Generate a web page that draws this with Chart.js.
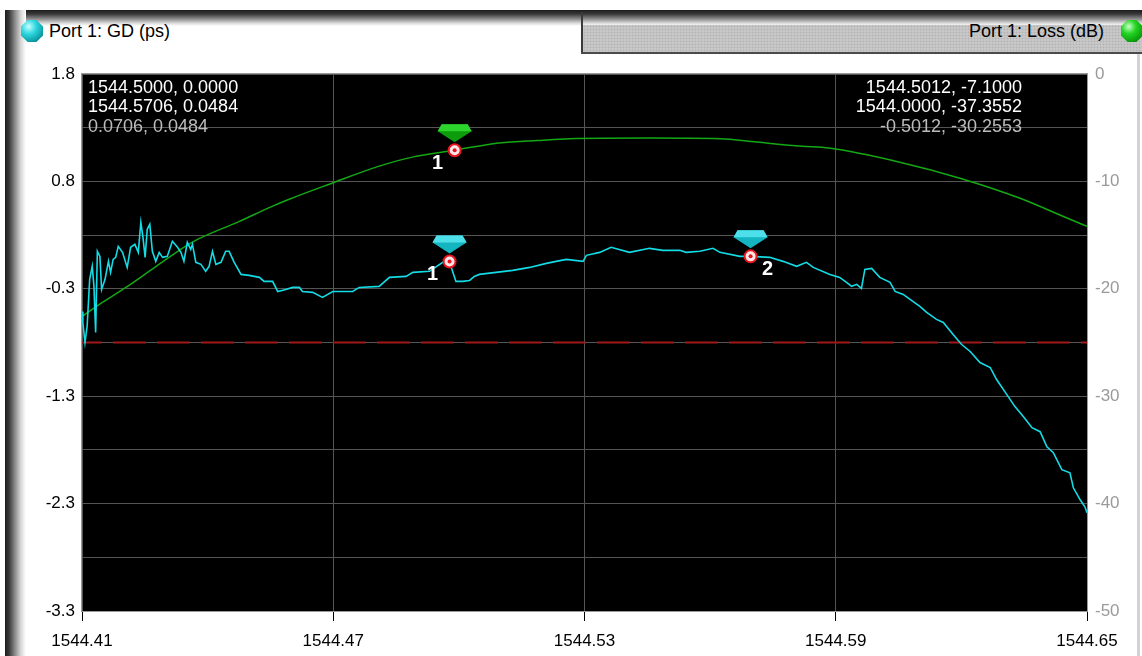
<!DOCTYPE html>
<html>
<head>
<meta charset="utf-8">
<title>Port 1: GD (ps) / Loss (dB)</title>
<script src="https://cdn.jsdelivr.net/npm/chart.js@4.4.1/dist/chart.umd.min.js"></script>
<style>
  html, body { margin: 0; padding: 0; background: #fff; }
  body { position: relative; width: 1142px; height: 656px; overflow: hidden;
         font-family: 'Liberation Sans', Arial, sans-serif; }
  .frame-top { position: absolute; left: 5px; top: 10px; width: 1137px; height: 16px;
               background: linear-gradient(to bottom, #1c1c1c 0, #383838 4px, #8c8c8c 9px, #d8d8d8 13px, #fff 16px); }
  .frame-left { position: absolute; left: 5px; top: 10px; width: 21px; height: 646px;
                background: linear-gradient(to right, #1c1c1c 0, #383838 4px, #8c8c8c 10px, #d8d8d8 16px, #fff 21px); }
  .tab-right { position: absolute; left: 583px; top: 25px; width: 559px; height: 27px;
               background-color: #c8c8c8;
               background-image: radial-gradient(#b2b2b2 0.8px, transparent 1.1px);
               background-size: 3px 3px; }
  .tab-edge { position: absolute; left: 581px; top: 12px; width: 2px; height: 42px; background: #3a3a3a; }
  .tab-base { position: absolute; left: 581px; top: 52px; width: 561px; height: 2px; background: #4a4a4a; }
  .frame-right { position: absolute; left: 1137px; top: 54px; width: 3px; height: 602px; background: #d2d2d2; }
  .tab-label { position: absolute; top: 21px; font-size: 18px; line-height: 20px; color: #000; white-space: nowrap; }
  .icon { position: absolute; top: 20px; width: 22px; height: 22px;
          clip-path: polygon(30% 0, 70% 0, 100% 30%, 100% 70%, 70% 100%, 30% 100%, 0 70%, 0 30%); }
  .icon.gd { left: 21px; background: radial-gradient(circle at 35% 30%, #c8feff 0, #2fd8e0 35%, #0a98a2 75%, #045a62 100%); }
  .icon.loss { left: 1121px; background: radial-gradient(circle at 35% 30%, #c8ffc8 0, #22d422 35%, #0a9a0a 75%, #045a04 100%); }
  #gd-chart { position: absolute; left: 0; top: 0; }
</style>
</head>
<body>
<div class="frame-top"></div>
<div class="frame-left"></div>
<div class="tab-right"></div>
<div class="tab-edge"></div>
<div class="tab-base"></div>
<div class="frame-right"></div>
<div class="icon gd"></div>
<div class="tab-label" style="left:49px">Port 1: GD (ps)</div>
<div class="tab-label" style="right:38px">Port 1: Loss (dB)</div>
<div class="icon loss"></div>
<canvas id="gd-chart" width="1142" height="656"></canvas>

<script>
// Axis ranges
const wlMin = 1544.4138;
const wlMax = 1544.6495;
const gdMin = -3.3;
const gdMax = 1.77;
const lossMin = -50;
const lossMax = 0;

// Group delay trace (ps) against wavelength (nm)
const gdWavelengths = [
    1544.4138, 1544.4140, 1544.4145, 1544.4150, 1544.4156, 1544.4162, 1544.4166, 1544.4170, 1544.4174, 1544.4180,
    1544.4184, 1544.4192, 1544.4200, 1544.4205, 1544.4211, 1544.4217, 1544.4223, 1544.4233, 1544.4244, 1544.4252,
    1544.4262, 1544.4270, 1544.4276, 1544.4281, 1544.4286, 1544.4291, 1544.4297, 1544.4303, 1544.4311, 1544.4319,
    1544.4327, 1544.4338, 1544.4350, 1544.4362, 1544.4370, 1544.4377, 1544.4385, 1544.4393, 1544.4397, 1544.4405,
    1544.4417, 1544.4428, 1544.4436, 1544.4444, 1544.4452, 1544.4464, 1544.4475, 1544.4483, 1544.4495, 1544.4511,
    1544.4530, 1544.4554, 1544.4565, 1544.4585, 1544.4597, 1544.4616, 1544.4632, 1544.4648, 1544.4655, 1544.4679,
    1544.4702, 1544.4726, 1544.4749, 1544.4773, 1544.4788, 1544.4835, 1544.4859, 1544.4898, 1544.4914, 1544.4953,
    1544.4984, 1544.5000, 1544.5007, 1544.5015, 1544.5031, 1544.5047, 1544.5058, 1544.5070, 1544.5109, 1544.5148,
    1544.5188, 1544.5227, 1544.5250, 1544.5274, 1544.5313, 1544.5321, 1544.5352, 1544.5379, 1544.5422, 1544.5469,
    1544.5500, 1544.5540, 1544.5555, 1544.5587, 1544.5618, 1544.5634, 1544.5681, 1544.5706, 1544.5751, 1544.5782,
    1544.5814, 1544.5837, 1544.5853, 1544.5892, 1544.5915, 1544.5931, 1544.5943, 1544.5955, 1544.5966, 1544.5974,
    1544.5990, 1544.6009, 1544.6033, 1544.6045, 1544.6064, 1544.6080, 1544.6103, 1544.6119, 1544.6142, 1544.6158,
    1544.6181, 1544.6201, 1544.6221, 1544.6244, 1544.6268, 1544.6283, 1544.6307, 1544.6326, 1544.6346, 1544.6366,
    1544.6385, 1544.6401, 1544.6416, 1544.6436, 1544.6455, 1544.6463, 1544.6479, 1544.6490, 1544.6495
];
const gdValues = [
    -0.472, -0.576, -0.765, -0.614, -0.169, -0.046, -0.235, -0.670, 0.096, 0.048,
    -0.264, -0.169, 0.001, -0.103, 0.020, 0.039, 0.143, 0.086, -0.056, 0.134,
    0.162, 0.086, 0.370, 0.228, 0.039, 0.304, 0.351, 0.096, 0.001, 0.086,
    0.039, 0.048, 0.190, 0.134, 0.086, 0.001, 0.181, 0.115, 0.162, -0.008,
    -0.027, -0.093, -0.046, 0.096, -0.027, -0.008, 0.096, 0.096, -0.008, -0.122,
    -0.131, -0.150, -0.188, -0.188, -0.283, -0.264, -0.245, -0.245, -0.283, -0.292,
    -0.339, -0.283, -0.283, -0.283, -0.245, -0.235, -0.150, -0.141, -0.103, -0.093,
    -0.008, 0.000, -0.093, -0.188, -0.188, -0.179, -0.141, -0.122, -0.103, -0.084,
    -0.056, -0.018, 0.001, 0.020, 0.001, 0.058, 0.086, 0.134, 0.086, 0.124,
    0.105, 0.105, 0.086, 0.096, 0.124, 0.086, 0.048, 0.0484, 0.039, 0.001,
    -0.046, -0.008, -0.056, -0.122, -0.150, -0.197, -0.235, -0.216, -0.254, -0.075,
    -0.065, -0.150, -0.197, -0.283, -0.311, -0.358, -0.424, -0.481, -0.547, -0.576,
    -0.689, -0.784, -0.850, -0.954, -1.001, -1.115, -1.257, -1.370, -1.465, -1.569,
    -1.607, -1.749, -1.806, -1.966, -1.995, -2.137, -2.250, -2.316, -2.373
];

// Insertion loss trace (dB)
const lossWavelengths = [
    1544.4138, 1544.4171, 1544.4241, 1544.4312, 1544.4396, 1544.4507, 1544.4584, 1544.4624, 1544.4718,
    1544.4835, 1544.4913, 1544.5012, 1544.5110, 1544.5204, 1544.5281, 1544.5469, 1544.5634, 1544.5721,
    1544.5826, 1544.5890, 1544.6056, 1544.6197, 1544.6338, 1544.6455, 1544.6495
];
const lossValues = [
    -22.58, -21.65, -19.87, -17.91, -15.67, -13.72, -12.32, -11.66, -10.26,
    -8.58, -7.74, -7.10, -6.44, -6.20, -6.02, -5.97, -6.02, -6.34,
    -6.72, -6.90, -8.21, -9.70, -11.57, -13.53, -14.18
];

// Loss limit line (dB)
const lossLimit = -25;

// Markers
const gdMarkerWavelengths = [1544.5000, 1544.5706];
const gdMarkerValues = [0.0000, 0.0484];
const gdMarkerNames = ['1', '2'];
const lossMarkerWavelengths = [1544.5012];
const lossMarkerValues = [-7.1000];
const lossMarkerNames = ['1'];

// Marker readouts
const gdReadout = ['1544.5000, 0.0000', '1544.5706, 0.0484', '0.0706, 0.0484'];
const lossReadout = ['1544.5012, -7.1000', '1544.0000, -37.3552', '-0.5012, -30.2553'];

const toPoints = (xs, ys) => xs.map((x, i) => ({ x: x, y: ys[i] }));

const evenTicks = (min, max, n) => Array.from({ length: n + 1 }, (_, i) => min + i * (max - min) / n);

const FONT = "'Liberation Sans', Arial, sans-serif";
Chart.defaults.font.family = FONT;

// Black plot area with a grey frame
const plotFrame = {
    id: 'plotFrame',
    beforeDraw(chart) {
        const { ctx, chartArea: a } = chart;
        ctx.save();
        ctx.fillStyle = '#000';
        ctx.fillRect(a.left, a.top, a.right - a.left, a.bottom - a.top);
        ctx.restore();
    },
    beforeDatasetsDraw(chart) {
        const { ctx, chartArea: a } = chart;
        ctx.save();
        ctx.strokeStyle = '#9a9a9a';
        ctx.lineWidth = 1;
        ctx.strokeRect(a.left - 0.5, a.top - 0.5, a.right - a.left + 1, a.bottom - a.top + 1);
        ctx.restore();
    }
};

function drawGem(ctx, cx, tipY, dark, light) {
    ctx.beginPath();
    ctx.moveTo(cx - 13, tipY - 18);
    ctx.lineTo(cx + 13, tipY - 18);
    ctx.lineTo(cx + 17, tipY - 11);
    ctx.lineTo(cx, tipY);
    ctx.lineTo(cx - 17, tipY - 11);
    ctx.closePath();
    ctx.fillStyle = dark;
    ctx.fill();
    ctx.beginPath();
    ctx.moveTo(cx - 13, tipY - 18);
    ctx.lineTo(cx + 13, tipY - 18);
    ctx.lineTo(cx + 17, tipY - 11);
    ctx.lineTo(cx - 17, tipY - 11);
    ctx.closePath();
    ctx.fillStyle = light;
    ctx.fill();
}

// Gem flags, centre dots and numbers on the marker points
const markerDecor = {
    id: 'markerDecor',
    afterDatasetsDraw(chart) {
        const ctx = chart.ctx;
        chart.data.datasets.forEach((ds, i) => {
            if (!ds.markerNames) return;
            const meta = chart.getDatasetMeta(i);
            meta.data.forEach((pt, j) => {
                ctx.save();
                drawGem(ctx, pt.x, pt.y - 8, ds.gemDark, ds.gemLight);
                ctx.beginPath();
                ctx.arc(pt.x, pt.y, 2, 0, Math.PI * 2);
                ctx.fillStyle = '#e8141e';
                ctx.fill();
                ctx.font = 'bold 20px ' + FONT;
                ctx.fillStyle = '#fff';
                ctx.textAlign = 'center';
                ctx.textBaseline = 'middle';
                const dx = j === 0 ? -17 : 17;
                ctx.fillText(ds.markerNames[j], pt.x + dx, pt.y + 13);
                ctx.restore();
            });
        });
    }
};

// Marker readout text in the top corners of the plot
const readouts = {
    id: 'readouts',
    afterDatasetsDraw(chart) {
        const { ctx, chartArea: a } = chart;
        const colors = ['#ffffff', '#ffffff', '#bcbcbc'];
        ctx.save();
        ctx.font = '18px ' + FONT;
        ctx.textBaseline = 'middle';
        gdReadout.forEach((t, i) => {
            ctx.fillStyle = colors[i];
            ctx.textAlign = 'left';
            ctx.fillText(t, a.left + 6, a.top + 14 + i * 19.5);
        });
        lossReadout.forEach((t, i) => {
            ctx.fillStyle = colors[i];
            ctx.textAlign = 'right';
            ctx.fillText(t, a.right - 65, a.top + 14 + i * 19.5);
        });
        ctx.restore();
    }
};

new Chart(document.getElementById('gd-chart'), {
    type: 'line',
    data: {
        datasets: [
            {
                data: toPoints(gdMarkerWavelengths, gdMarkerValues),
                yAxisID: 'y',
                showLine: false,
                pointRadius: 6,
                pointBorderWidth: 2,
                pointBorderColor: '#e8141e',
                pointBackgroundColor: '#ffe6e6',
                markerNames: gdMarkerNames,
                gemDark: '#14b4c0',
                gemLight: '#4ee0ea'
            },
            {
                data: toPoints(lossMarkerWavelengths, lossMarkerValues),
                yAxisID: 'y2',
                showLine: false,
                pointRadius: 6,
                pointBorderWidth: 2,
                pointBorderColor: '#e8141e',
                pointBackgroundColor: '#ffe6e6',
                markerNames: lossMarkerNames,
                gemDark: '#0c9c0c',
                gemLight: '#2ed42e'
            },
            {
                data: toPoints(gdWavelengths, gdValues),
                yAxisID: 'y',
                borderColor: '#14dce6',
                borderWidth: 1.6,
                pointRadius: 0,
                tension: 0
            },
            {
                data: toPoints(lossWavelengths, lossValues),
                yAxisID: 'y2',
                borderColor: '#14a814',
                borderWidth: 1.5,
                pointRadius: 0,
                cubicInterpolationMode: 'monotone'
            },
            {
                data: [{ x: wlMin, y: lossLimit }, { x: wlMax, y: lossLimit }],
                yAxisID: 'y2',
                borderColor: '#a01818',
                borderWidth: 2,
                borderDash: [33, 11],
                borderDashOffset: 13,
                pointRadius: 0
            }
        ]
    },
    options: {
        responsive: false,
        devicePixelRatio: 1,
        animation: false,
        events: [],
        layout: { padding: { top: 74, left: 0, right: 0, bottom: 0 } },
        plugins: {
            legend: { display: false },
            tooltip: { enabled: false }
        },
        scales: {
            x: {
                type: 'linear',
                min: wlMin,
                max: wlMax,
                afterBuildTicks: s => { s.ticks = evenTicks(wlMin, wlMax, 4).map(v => ({ value: v })); },
                afterFit: s => { s.height = 45; },
                border: { display: false },
                grid: {
                    color: '#555555',
                    lineWidth: 1,
                    tickColor: '#000',
                    tickLength: 10,
                    tickWidth: 1
                },
                ticks: {
                    color: '#000',
                    font: { size: 17 },
                    padding: 10,
                    maxRotation: 0,
                    autoSkip: false,
                    callback: v => Number(v).toFixed(2)
                }
            },
            y: {
                position: 'left',
                min: gdMin,
                max: gdMax,
                afterBuildTicks: s => { s.ticks = evenTicks(gdMin, gdMax, 10).map(v => ({ value: v })); },
                afterFit: s => { s.width = 82; },
                border: { display: false },
                grid: { color: '#555555', lineWidth: 1, drawTicks: false },
                ticks: {
                    color: '#000',
                    font: { size: 17 },
                    padding: 7,
                    autoSkip: false,
                    callback: (v, i) => (i % 2 === 0 ? Number(v).toFixed(1) : '')
                }
            },
            y2: {
                position: 'right',
                min: lossMin,
                max: lossMax,
                afterBuildTicks: s => { s.ticks = evenTicks(lossMin, lossMax, 10).map(v => ({ value: v })); },
                afterFit: s => { s.width = 55; },
                border: { display: false },
                grid: { drawOnChartArea: false, drawTicks: false },
                ticks: {
                    color: '#9a9a9a',
                    font: { size: 17 },
                    padding: 8,
                    autoSkip: false,
                    callback: (v, i) => (i % 2 === 0 ? String(Math.round(v)) : '')
                }
            }
        }
    },
    plugins: [plotFrame, markerDecor, readouts]
});
</script>
</body>
</html>
